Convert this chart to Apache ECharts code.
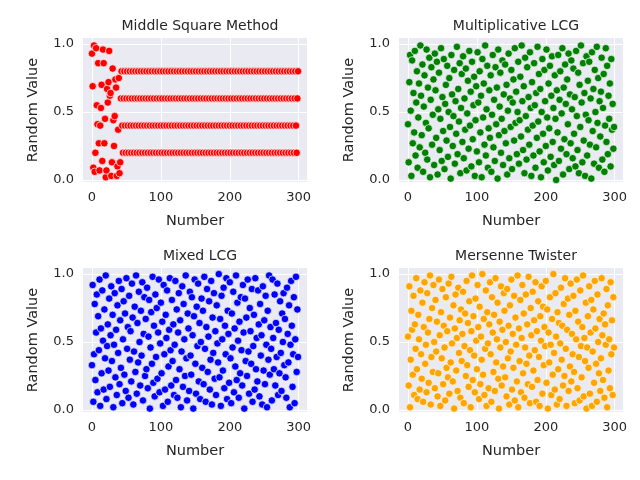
<!DOCTYPE html>
<html>
<head>
<meta charset="utf-8">
<script src="https://cdn.jsdelivr.net/npm/echarts@6/dist/echarts.min.js"></script>
<style>html,body{margin:0;padding:0;background:#fff}#main{width:640px;height:480px}</style>
</head>
<body>
<div id="main"></div>
<script>
// values in percent (0-100), index is the x value
const middleSquare = [
  93,69,9,99,6,20,97,55,41,86,27,7,40,53,70,14,96,86,27,45,2,7,67,57,72,95,62,64,3,13,82,44,25,47,74,68,3,10,37,75,5,13,
  60,80,40,20,60,80,40,20,60,80,40,20,60,80,40,20,60,80,40,20,60,80,40,20,60,80,40,20,60,80,40,20,
  60,80,40,20,60,80,40,20,60,80,40,20,60,80,40,20,60,80,40,20,60,80,40,20,60,80,40,20,60,80,40,20,
  60,80,40,20,60,80,40,20,60,80,40,20,60,80,40,20,60,80,40,20,60,80,40,20,60,80,40,20,60,80,40,20,
  60,80,40,20,60,80,40,20,60,80,40,20,60,80,40,20,60,80,40,20,60,80,40,20,60,80,40,20,60,80,40,20,
  60,80,40,20,60,80,40,20,60,80,40,20,60,80,40,20,60,80,40,20,60,80,40,20,60,80,40,20,60,80,40,20,
  60,80,40,20,60,80,40,20,60,80,40,20,60,80,40,20,60,80,40,20,60,80,40,20,60,80,40,20,60,80,40,20,
  60,80,40,20,60,80,40,20,60,80,40,20,60,80,40,20,60,80,40,20,60,80,40,20,60,80,40,20,60,80,40,20,
  60,80,40,20,60,80,40,20,60,80,40,20,60,80,40,20,60,80,40,20,60,80,40,20,60,80,40,20,60,80,40,20,
  60,80
];
const multLCG = [
  41,13,72,92,51,3,88,27,64,35,95,18,57,80,9,46,71,24,99,62,
  33,85,6,54,77,20,42,96,15,68,38,90,2,59,83,26,48,74,11,93,
  66,31,87,4,52,79,22,45,97,14,61,36,89,8,56,70,29,84,17,50,
  75,39,1,92,63,25,47,81,12,58,34,98,19,67,43,86,5,53,78,28,
  91,16,60,37,82,7,49,73,23,95,40,65,10,87,30,55,76,3,44,69,
  21,94,57,13,80,35,62,2,89,46,71,26,99,18,52,84,9,38,66,31,
  77,6,48,92,24,59,14,83,41,68,1,96,33,54,79,20,45,88,11,63,
  36,85,27,70,4,51,93,16,60,39,81,8,57,74,29,97,42,65,19,50,
  87,12,44,76,32,99,58,22,69,5,90,47,15,83,37,61,26,94,53,3,
  72,40,18,86,55,9,64,31,98,43,78,21,67,2,50,89,34,13,81,58,
  25,96,46,7,71,38,84,17,62,91,28,53,11,77,45,0,66,35,92,14,
  59,80,23,49,97,4,68,30,85,56,19,74,41,93,8,63,27,88,52,16,
  82,34,61,10,95,47,22,79,5,70,39,99,57,13,86,29,64,3,48,91,
  18,73,44,87,26,60,1,94,36,67,12,81,50,24,98,42,75,9,58,32,
  65,90,15,53,78,6,40,97,28,84,19,62,45,71,10,89,37,56,23,39
];
const mixedLCG = [
  33,92,6,41,78,22,57,85,13,69,44,96,3,60,27,88,51,15,74,38,
  99,8,47,63,29,82,17,55,91,36,70,2,48,86,24,59,11,77,42,95,
  19,66,31,89,5,52,80,26,71,14,97,45,61,9,84,37,58,21,93,68,
  4,43,76,28,99,12,64,35,87,50,18,73,40,94,7,56,83,25,67,30,
  90,16,54,81,1,46,72,34,98,20,62,10,85,39,75,23,57,96,13,49,
  79,27,65,3,92,41,15,70,53,88,6,32,59,97,44,18,81,36,63,11,
  48,95,22,74,9,57,86,30,66,2,43,91,17,78,52,25,99,38,7,71,
  60,14,87,40,26,83,55,1,69,96,34,12,76,47,93,21,64,8,50,82,
  31,73,19,98,45,6,61,89,28,54,80,15,37,95,4,68,42,86,23,58,
  11,77,49,35,100,24,67,3,84,52,29,90,16,62,41,97,8,73,56,20,
  94,38,5,71,46,87,13,60,32,99,22,79,51,9,65,27,83,44,18,92,
  57,1,82,36,68,25,96,43,12,75,58,34,89,6,47,70,15,97,30,53,
  21,88,63,10,78,40,55,4,91,29,66,19,84,48,2,73,37,99,26,61,
  45,7,96,53,30,85,18,64,39,93,11,59,27,80,42,14,71,50,86,33,
  67,24,9,90,56,35,77,2,48,95,62,17,41,83,5,52,98,28,74,39
];
const mersenne = [
  54,18,91,2,37,73,59,26,84,11,63,45,97,30,8,70,52,15,88,41,
  23,79,6,61,94,34,48,13,86,57,20,67,99,4,39,75,28,92,50,16,
  81,43,65,10,27,96,55,3,72,38,89,19,62,46,7,83,31,58,24,93,
  12,68,35,98,49,21,77,1,60,85,29,53,14,90,42,66,9,74,36,56,
  87,5,47,71,25,95,33,64,17,80,44,2,58,99,22,69,40,13,82,51,
  30,92,61,8,76,19,54,37,100,26,67,11,45,88,3,72,49,16,63,94,
  41,6,83,57,28,70,14,97,35,52,79,23,1,65,46,91,18,59,32,86,
  73,24,50,10,89,38,62,4,77,43,96,15,56,31,84,7,68,48,21,99,
  2,60,36,81,13,53,92,27,71,9,46,85,34,63,19,98,40,5,75,55,
  17,87,29,66,44,94,6,58,22,80,39,3,69,51,91,12,76,33,61,47,
  95,20,74,1,57,35,83,48,11,67,26,100,42,15,86,54,4,72,30,64,
  8,49,90,37,62,18,78,25,97,45,3,59,82,14,70,32,93,21,56,41,
  84,28,5,73,52,96,16,65,39,7,88,47,24,61,99,10,53,36,79,1,
  46,69,31,91,12,57,81,3,43,74,20,95,60,34,6,85,50,27,67,14,
  38,97,55,22,71,9,63,48,89,2,77,29,52,16,94,41,66,11,83,46
];
const titles = ["Middle Square Method", "Multiplicative LCG", "Mixed LCG", "Mersenne Twister"];
const colors = ["#ff0000", "#008000", "#0000ff", "#ffa500"];
const xTicks = [0, 100, 200, 300];
const yTicks = [0, 0.5, 1];

const allData = [middleSquare, multLCG, mixedLCG, mersenne];
const FONT = "DejaVu Sans";
const TXT = "#262626";

var grids = [], xAxes = [], yAxes = [], series = [], titleArr = [];
var lefts = [83, 399], tops = [38, 268];

allData.forEach((arr, k) => {
    var col = k % 2, row = Math.floor(k / 2);
    grids.push({
        left: lefts[col], top: tops[row], width: 224, height: 144,
        show: true, backgroundColor: "#EAEAF2", borderWidth: 0,
    });
    titleArr.push({
        text: titles[k], left: lefts[col] + 112, top: tops[row] - 24, textAlign: "center",
        textStyle: { fontFamily: FONT, fontSize: 14, fontWeight: "normal", color: TXT },
    });
    xAxes.push({
        gridIndex: k, type: "value", min: -13, max: 312,
        name: "Number", nameLocation: "middle", nameGap: 32,
        nameTextStyle: { fontFamily: FONT, fontSize: 14.5, color: TXT },
        axisLine: { show: false },
        axisTick: { show: false, customValues: xTicks },
        axisLabel: { customValues: xTicks, fontFamily: FONT, fontSize: 13, color: TXT, margin: 9 },
        splitLine: { show: true, lineStyle: { color: "#fff", width: 1 } },
    });
    yAxes.push({
        gridIndex: k, type: "value", min: -0.015, max: 1.045,
        name: "Random Value", nameLocation: "middle", nameGap: 42,
        nameTextStyle: { fontFamily: FONT, fontSize: 14.5, color: TXT },
        axisLine: { show: false },
        axisTick: { show: false, customValues: yTicks },
        axisLabel: { customValues: yTicks, fontFamily: FONT, fontSize: 13, color: TXT, margin: 9,
            formatter: v => v.toFixed(1) },
        splitLine: { show: true, lineStyle: { color: "#fff", width: 1 } },
    });
    series.push({
        type: "scatter", xAxisIndex: k, yAxisIndex: k,
        symbolSize: 7.5,
        itemStyle: { color: colors[k], borderColor: "#fff", borderWidth: 0.7, opacity: 1 },
        data: arr.map((v, i) => [i, v / 100]),
    });
});

var chart = echarts.init(document.getElementById("main"));
chart.setOption({
    animation: false,
    title: titleArr,
    grid: grids,
    xAxis: xAxes,
    yAxis: yAxes,
    series: series,
});
</script>
</body>
</html>
